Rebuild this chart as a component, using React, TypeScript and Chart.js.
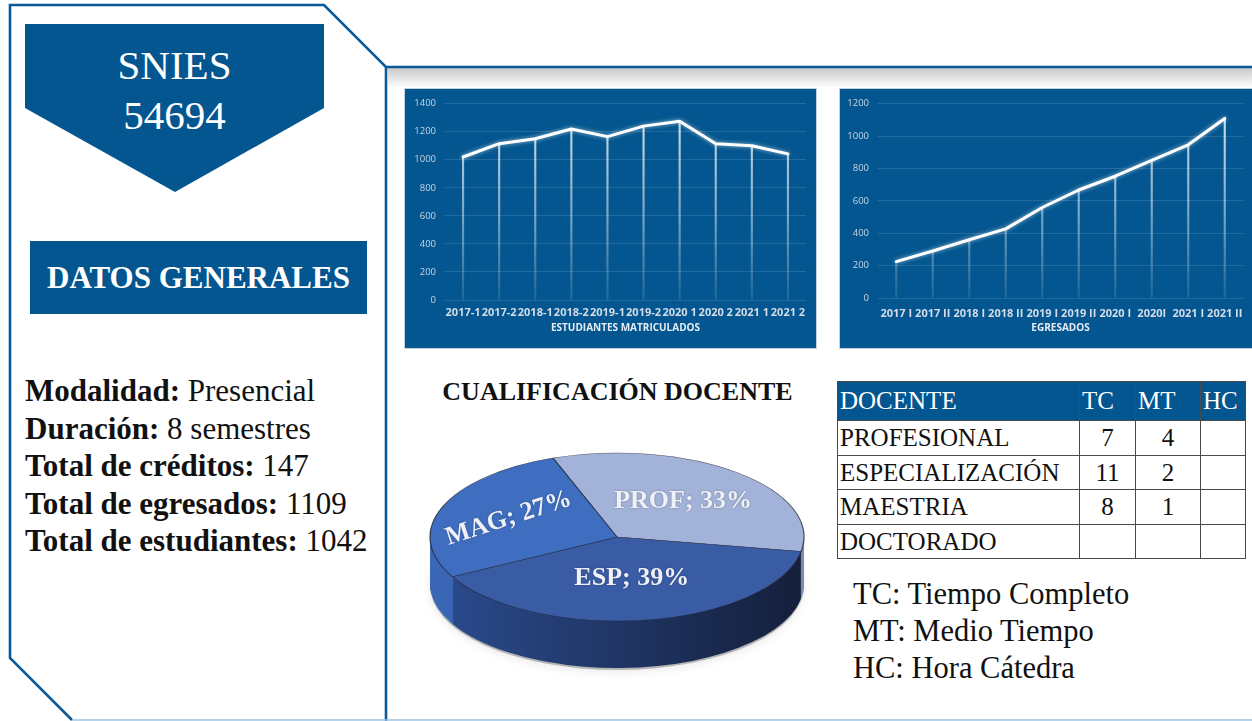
import React, { useEffect, useRef } from "react";
import { Chart, registerables } from "chart.js";

Chart.register(...registerables);

const BLUE = "#03568F";
const LINE_BLUE = "#0B5A97";

// ---------- data ----------
const matriculadosLabels = ["2017-1", "2017-2", "2018-1", "2018-2", "2019-1", "2019-2", "2020 1", "2020 2", "2021 1", "2021 2"];
const matriculadosValues = [1020, 1115, 1150, 1220, 1165, 1240, 1275, 1115, 1100, 1042];

const egresadosLabels = ["2017 I", "2017 II", "2018 I", "2018 II", "2019 I", "2019 II", "2020 I", "2020I", "2021 I", "2021 II"];
const egresadosValues = [225, 290, 360, 427, 559, 667, 752, 850, 946, 1109];

const pieLabels = ["PROF", "ESP", "MAG"];
const pieValues = [33, 39, 27];

const docenteLevels = ["PROFESIONAL", "ESPECIALIZACIÓN", "MAESTRIA", "DOCTORADO"];
const tcCounts = ["7", "11", "8", ""];
const mtCounts = ["4", "2", "1", ""];
const hcCounts = ["", "", "", ""];

const infoLines: [string, string][] = [
  ["Modalidad:", " Presencial"],
  ["Duración:", " 8 semestres"],
  ["Total de créditos:", " 147"],
  ["Total de egresados:", " 1109"],
  ["Total de estudiantes:", " 1042"],
];

const legendLines = ["TC: Tiempo Completo", "MT: Medio Tiempo", "HC: Hora Cátedra"];

// ---------- line chart ----------
type LineProps = {
  labels: string[];
  values: number[];
  yMax: number;
  title: string;
  left: number;
  top: number;
  width: number;
  height: number;
  areaLeft: number;
  areaRight: number;
  areaTop: number;
  areaBottom: number;
  tickPad: number;
};

function LineChart(p: LineProps) {
  const ref = useRef<HTMLCanvasElement>(null);
  useEffect(() => {
    const axisWidth = 30;
    const glow = {
      id: "glow",
      beforeDatasetDraw(chart: any, args: any) {
        if (args.meta.type === "line") {
          chart.ctx.save();
          chart.ctx.shadowColor = "rgba(255,255,255,0.6)";
          chart.ctx.shadowBlur = 4;
        }
      },
      afterDatasetDraw(chart: any, args: any) {
        if (args.meta.type === "line") chart.ctx.restore();
      },
    };
    const dropColor = (c: any) => {
      const area = c.chart.chartArea;
      if (!area) return "rgba(255,255,255,0.6)";
      const g = c.chart.ctx.createLinearGradient(0, area.top, 0, area.bottom);
      g.addColorStop(0, "rgba(255,255,255,0.85)");
      g.addColorStop(0.6, "rgba(255,255,255,0.45)");
      g.addColorStop(1, "rgba(255,255,255,0.1)");
      return g;
    };
    const chart = new Chart(ref.current as HTMLCanvasElement, {
      type: "bar",
      data: {
        labels: p.labels,
        datasets: [
          {
            type: "line",
            data: p.values,
            borderColor: "#FFFFFF",
            borderWidth: 3,
            pointRadius: 0,
            tension: 0,
            borderJoinStyle: "round",
            borderCapStyle: "round",
            order: 0,
          } as any,
          {
            type: "bar",
            data: p.values,
            backgroundColor: dropColor,
            barThickness: 1.5,
            order: 1,
          } as any,
        ],
      },
      options: {
        responsive: false,
        animation: false,
        layout: {
          padding: {
            left: p.areaLeft - axisWidth,
            right: p.width - p.areaRight,
            top: p.areaTop,
            bottom: 0,
          },
        },
        plugins: { legend: { display: false }, tooltip: { enabled: false } },
        scales: {
          x: {
            grid: { display: false, drawTicks: false },
            border: { display: false },
            ticks: {
              color: "#D3DCE8",
              font: { family: "Open Sans", size: 11, weight: "bold" },
              padding: p.tickPad,
              autoSkip: false,
              maxRotation: 0,
              minRotation: 0,
            },
            title: {
              display: true,
              text: p.title,
              color: "#E6ECF4",
              font: { family: "Open Sans", size: 10, weight: "bold" },
              padding: { top: 0, bottom: 14 },
            },
            afterFit: (s: any) => {
              s.height = p.height - p.areaBottom;
            },
          } as any,
          y: {
            min: 0,
            max: p.yMax,
            ticks: {
              stepSize: 200,
              color: "#C9D5E5",
              font: { family: "Open Sans", size: 9.5 },
              padding: 9,
              callback: (v: any) => String(v),
            },
            grid: { color: "rgba(255,255,255,0.13)", drawTicks: false, lineWidth: 1 },
            border: { display: false },
            afterFit: (s: any) => {
              s.width = axisWidth;
            },
          } as any,
        },
      },
      plugins: [glow],
    });
    return () => chart.destroy();
  }, []);
  return (
    <div
      style={{
        position: "absolute",
        left: p.left,
        top: p.top,
        width: p.width,
        height: p.height,
        background: BLUE,
        boxShadow: "0 0 0 1px rgba(170,190,210,0.7)",
      }}
    >
      <canvas ref={ref} width={p.width} height={p.height} style={{ display: "block" }} />
    </div>
  );
}

// ---------- 3D pie ----------
function Pie3D() {
  const ref = useRef<HTMLCanvasElement>(null);
  useEffect(() => {
    const cx = 617 - 405;
    const cy = 537 - 410;
    const rx = 187;
    const ry = 84;
    const depth = 47;
    const topColors = ["#A3B2D8", "#3A5CA5", "#3F6EC0"];
    const sideLeft = ["#8E9CC0", "#2B4C90", "#3A67B6"];
    const sideRight = ["#7E8CB0", "#141F3A", "#2F58A0"];
    const labelRadius = [0.55, 0.5, 0.62];
    const labelRotation = [0, 0, -18];

    const pie3d = {
      id: "pie3d",
      beforeDatasetsDraw(chart: any) {
        const arcs = chart.getDatasetMeta(0).data as any[];
        if (!arcs.length) return;
        const { x, y, outerRadius: r } = arcs[0];
        const sx = rx / r;
        const sy = ry / r;
        const ctx = chart.ctx as CanvasRenderingContext2D;
        ctx.save();
        ctx.translate(cx, cy);
        ctx.scale(sx, sy);
        ctx.translate(-x, -y);
        ctx.save();
        ctx.beginPath();
        ctx.arc(x, y + (depth + 2) / sy, r, 0, Math.PI * 2);
        ctx.fillStyle = "rgba(0,0,0,0.25)";
        ctx.shadowColor = "rgba(0,0,0,0.35)";
        ctx.shadowBlur = 10;
        ctx.shadowOffsetY = 2;
        ctx.fill();
        ctx.restore();
        for (let d = depth; d >= 1; d -= 1) {
          arcs.forEach((a: any, i: number) => {
            const g = ctx.createLinearGradient(x - r, 0, x + r, 0);
            g.addColorStop(0, sideLeft[i]);
            g.addColorStop(1, sideRight[i]);
            ctx.beginPath();
            ctx.moveTo(x, y + d / sy);
            ctx.arc(x, y + d / sy, r, a.startAngle, a.endAngle);
            ctx.closePath();
            ctx.fillStyle = g;
            ctx.fill();
          });
        }
      },
      afterDatasetsDraw(chart: any) {
        const ctx = chart.ctx as CanvasRenderingContext2D;
        ctx.restore();
        const arcs = chart.getDatasetMeta(0).data as any[];
        ctx.save();
        ctx.font = "bold 26px 'Liberation Serif'";
        ctx.fillStyle = "#EEF1F8";
        ctx.textAlign = "center";
        ctx.textBaseline = "middle";
        ctx.shadowColor = "rgba(0,0,0,0.35)";
        ctx.shadowBlur = 2;
        arcs.forEach((a: any, i: number) => {
          const mid = (a.startAngle + a.endAngle) / 2;
          const px = cx + Math.cos(mid) * rx * labelRadius[i];
          const py = cy + Math.sin(mid) * ry * labelRadius[i];
          ctx.save();
          ctx.translate(px, py);
          ctx.rotate((labelRotation[i] * Math.PI) / 180);
          ctx.fillText(`${pieLabels[i]}; ${pieValues[i]}%`, 0, 0);
          ctx.restore();
        });
        ctx.restore();
      },
    };

    const chart = new Chart(ref.current as HTMLCanvasElement, {
      type: "pie",
      data: {
        labels: pieLabels,
        datasets: [
          {
            data: pieValues,
            backgroundColor: topColors,
            borderColor: "rgba(40,40,55,0.75)",
            borderWidth: 1,
            clip: false,
          } as any,
        ],
      },
      options: {
        responsive: false,
        animation: false,
        rotation: -20,
        plugins: { legend: { display: false }, tooltip: { enabled: false } },
      },
      plugins: [pie3d],
    });
    return () => chart.destroy();
  }, []);
  return (
    <canvas
      ref={ref}
      width={420}
      height={290}
      style={{ position: "absolute", left: 405, top: 410, display: "block" }}
    />
  );
}

// ---------- table ----------
function DocenteTable() {
  const cell: React.CSSProperties = {
    border: "1.5px solid #4a4a4a",
    padding: "0 2px",
    height: 33.5,
    lineHeight: "33.5px",
    whiteSpace: "nowrap",
  };
  const colW = [242, 56, 65, 45];
  return (
    <table
      style={{
        position: "absolute",
        left: 837,
        top: 381,
        borderCollapse: "collapse",
        fontFamily: "'Liberation Serif', serif",
        fontSize: 25,
        color: "#111",
        tableLayout: "fixed",
        width: 409,
      }}
    >
      <colgroup>
        {colW.map((w, i) => (
          <col key={i} style={{ width: w }} />
        ))}
      </colgroup>
      <thead>
        <tr style={{ background: BLUE, color: "#fff" }}>
          {["DOCENTE", "TC", "MT", "HC"].map((h) => (
            <th
              key={h}
              style={{ ...cell, fontWeight: "normal", textAlign: "left", height: 35, lineHeight: "38px", verticalAlign: "bottom" }}
            >
              {h}
            </th>
          ))}
        </tr>
      </thead>
      <tbody>
        {docenteLevels.map((lvl, i) => (
          <tr key={lvl}>
            <td style={{ ...cell, textAlign: "left" }}>{lvl}</td>
            <td style={{ ...cell, textAlign: "center" }}>{tcCounts[i]}</td>
            <td style={{ ...cell, textAlign: "center" }}>{mtCounts[i]}</td>
            <td style={{ ...cell, textAlign: "center" }}>{hcCounts[i]}</td>
          </tr>
        ))}
      </tbody>
    </table>
  );
}

// ---------- app ----------
export default function App() {
  return (
    <div
      style={{
        position: "absolute",
        left: 0,
        top: 0,
        width: 1252,
        height: 721,
        overflow: "hidden",
        background: "#fff",
        fontFamily: "'Liberation Serif', serif",
      }}
    >
      <div
        style={{
          position: "absolute",
          left: 388,
          top: 68,
          width: 864,
          height: 20,
          background: "linear-gradient(#c9c9c9, rgba(255,255,255,0))",
        }}
      />
      <svg width={1252} height={721} style={{ position: "absolute", left: 0, top: 0 }}>
        <polyline
          points="72,720 10,658 10,5 324,5 386,67 386,721"
          fill="none"
          stroke={LINE_BLUE}
          strokeWidth={2.6}
        />
        <line x1={72} y1={720} x2={1252} y2={720} stroke="#9CC3E4" strokeWidth={1.5} />
        <line x1={386} y1={67} x2={1252} y2={67} stroke={LINE_BLUE} strokeWidth={2.6} />
        <polygon points="25,24 324,24 324,108 175,192 25,108" fill={BLUE} />
      </svg>

      <div
        style={{
          position: "absolute",
          left: 25,
          top: 40,
          width: 299,
          textAlign: "center",
          color: "#fff",
          fontSize: 41,
          lineHeight: "50px",
        }}
      >
        SNIES
        <br />
        54694
      </div>

      <div
        style={{
          position: "absolute",
          left: 30,
          top: 241,
          width: 337,
          height: 73,
          background: BLUE,
          color: "#fff",
          fontWeight: "bold",
          fontSize: 31,
          display: "flex",
          alignItems: "center",
          justifyContent: "center",
        }}
      >
        DATOS GENERALES
      </div>

      <div
        style={{
          position: "absolute",
          left: 25,
          top: 372,
          fontSize: 31,
          lineHeight: "37.5px",
          color: "#111",
          whiteSpace: "nowrap",
        }}
      >
        {infoLines.map(([b, r]) => (
          <div key={b}>
            <b>{b}</b>
            {r}
          </div>
        ))}
      </div>

      <LineChart
        labels={matriculadosLabels}
        values={matriculadosValues}
        yMax={1400}
        title="ESTUDIANTES MATRICULADOS"
        left={405}
        top={89}
        width={411}
        height={259}
        areaLeft={40}
        areaRight={401}
        areaTop={12}
        areaBottom={211}
        tickPad={6}
      />
      <LineChart
        labels={egresadosLabels}
        values={egresadosValues}
        yMax={1200}
        title="EGRESADOS"
        left={840}
        top={89}
        width={412}
        height={259}
        areaLeft={38}
        areaRight={403}
        areaTop={13}
        areaBottom={209}
        tickPad={9}
      />

      <div
        style={{
          position: "absolute",
          left: 405,
          top: 376,
          width: 425,
          textAlign: "center",
          fontWeight: "bold",
          fontSize: 26,
          lineHeight: "32px",
          color: "#111",
        }}
      >
        CUALIFICACIÓN DOCENTE
      </div>

      <Pie3D />
      <DocenteTable />

      <div
        style={{
          position: "absolute",
          left: 853,
          top: 576,
          fontSize: 30.5,
          lineHeight: "37px",
          color: "#111",
          whiteSpace: "nowrap",
        }}
      >
        {legendLines.map((l) => (
          <div key={l}>{l}</div>
        ))}
      </div>
    </div>
  );
}
